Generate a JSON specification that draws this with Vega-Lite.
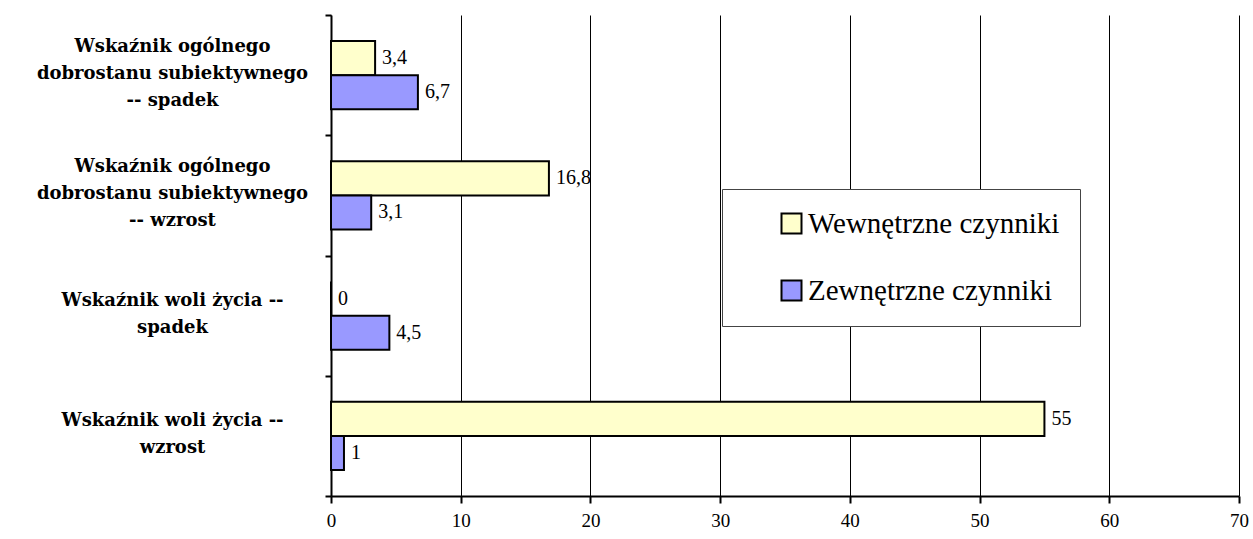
{
  "$schema": "https://vega.github.io/schema/vega-lite/v6.json",
  "width": 908,
  "height": 481,
  "autosize": {"type": "none"},
  "padding": {"left": 331, "top": 15, "right": 14, "bottom": 43},
  "background": "white",
  "config": {"view": {"stroke": null}},
  "data": {
    "values": [
      {"kategoria": "Wskaźnik ogólnego|\u200b|dobrostanu subiektywnego|\u200b|-- spadek", "czynniki": "Wewnętrzne czynniki", "wartosc": 3.4},
      {"kategoria": "Wskaźnik ogólnego|\u200b|dobrostanu subiektywnego|\u200b|-- spadek", "czynniki": "Zewnętrzne czynniki", "wartosc": 6.7},
      {"kategoria": "Wskaźnik ogólnego|\u200b|dobrostanu subiektywnego|\u200b|-- wzrost", "czynniki": "Wewnętrzne czynniki", "wartosc": 16.8},
      {"kategoria": "Wskaźnik ogólnego|\u200b|dobrostanu subiektywnego|\u200b|-- wzrost", "czynniki": "Zewnętrzne czynniki", "wartosc": 3.1},
      {"kategoria": "\u200b|Wskaźnik woli życia --|\u200b|spadek", "czynniki": "Wewnętrzne czynniki", "wartosc": 0},
      {"kategoria": "\u200b|Wskaźnik woli życia --|\u200b|spadek", "czynniki": "Zewnętrzne czynniki", "wartosc": 4.5},
      {"kategoria": "\u200b|Wskaźnik woli życia --|\u200b|wzrost", "czynniki": "Wewnętrzne czynniki", "wartosc": 55},
      {"kategoria": "\u200b|Wskaźnik woli życia --|\u200b|wzrost", "czynniki": "Zewnętrzne czynniki", "wartosc": 1}
    ]
  },
  "transform": [
    {"calculate": "replace(toString(datum.wartosc), '.', ',')", "as": "etykieta"}
  ],
  "encoding": {
    "y": {
      "field": "kategoria",
      "type": "nominal",
      "sort": null,
      "scale": {"paddingInner": 0, "paddingOuter": 0},
      "axis": {
        "title": null,
        "labelExpr": "split(datum.label, '|')",
        "labelFont": "DejaVu Serif",
        "labelFontWeight": "bold",
        "labelFontSize": 18,
        "labelColor": "black",
        "labelAlign": "center",
        "labelBaseline": "middle",
        "labelLineHeight": 13.5,
        "labelPadding": 153,
        "labelOffset": -29,
        "labelLimit": 400,
        "tickBand": "extent",
        "tickSize": 6,
        "tickWidth": 2,
        "tickColor": "black",
        "domainColor": "black",
        "domainWidth": 2
      }
    },
    "yOffset": {
      "field": "czynniki",
      "type": "nominal",
      "sort": ["Wewnętrzne czynniki", "Zewnętrzne czynniki"],
      "scale": {"paddingInner": 0, "paddingOuter": 0.765}
    },
    "x": {
      "field": "wartosc",
      "type": "quantitative",
      "scale": {"domain": [0, 70], "nice": false},
      "axis": {
        "title": null,
        "values": [0, 10, 20, 30, 40, 50, 60, 70],
        "grid": true,
        "gridColor": "black",
        "gridWidth": 1,
        "gridOpacity": 1,
        "domainColor": "black",
        "domainWidth": 2,
        "tickColor": "black",
        "tickWidth": 2,
        "tickSize": 7,
        "labelFont": "Liberation Serif",
        "labelFontSize": 19,
        "labelColor": "black",
        "labelPadding": 8,
        "labelFlush": false
      }
    }
  },
  "layer": [
    {
      "mark": {"type": "bar", "stroke": "black", "strokeWidth": 2},
      "encoding": {
        "color": {
          "field": "czynniki",
          "type": "nominal",
          "scale": {"domain": ["Wewnętrzne czynniki", "Zewnętrzne czynniki"], "range": ["#FFFFCC", "#9999FF"]},
          "legend": {
            "orient": "none",
            "legendX": 391,
            "legendY": 174,
            "title": null,
            "fillColor": "white",
            "strokeColor": "#444444",
            "padding": 20,
            "symbolOffset": 35,
            "rowPadding": 37,
            "symbolType": "square",
            "symbolSize": 400,
            "symbolStrokeColor": "black",
            "symbolStrokeWidth": 2,
            "symbolOpacity": 1,
            "labelFont": "Liberation Serif",
            "labelFontSize": 29,
            "labelColor": "black",
            "labelOffset": 2,
            "labelLimit": 400
          }
        }
      }
    },
    {
      "mark": {"type": "text", "align": "left", "baseline": "middle", "dx": 7, "font": "Liberation Serif", "fontSize": 20, "color": "black"},
      "encoding": {"text": {"field": "etykieta"}}
    }
  ]
}
